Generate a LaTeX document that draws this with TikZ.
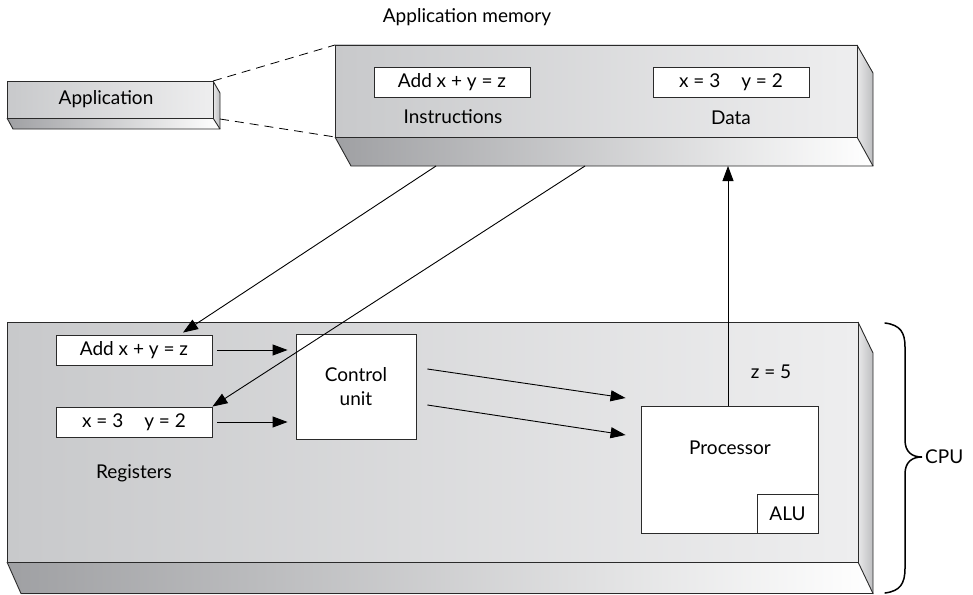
\documentclass[tikz,border=0pt]{standalone}
\usepackage{fontspec}
\setmainfont{Lato}
\usetikzlibrary{arrows.meta}
\definecolor{frontL}{HTML}{C8C9CB}
\definecolor{frontR}{HTML}{EEEEEF}
\definecolor{botL}{HTML}{9FA0A3}
\definecolor{sideL}{HTML}{E8E8E9}
\definecolor{sideR}{HTML}{BDBEC0}
\definecolor{edge}{HTML}{2A2A2A}
\newcommand{\lblfont}{\fontsize{19}{22}\selectfont}
\tikzset{
  front/.style={left color=frontL, right color=frontR},
  bottomface/.style={left color=botL, right color=white},
  sideface/.style={left color=sideL, right color=sideR},
  outline/.style={draw=edge, line width=0.9pt, line join=round},
  whitebox/.style={draw=edge, fill=white, line width=0.9pt, inner sep=0pt, font=\lblfont},
  lbl/.style={inner sep=0pt, font=\lblfont},
  arr/.style={draw=black, line width=0.9pt, -{Triangle[length=15pt,width=11pt]}},
  dashline/.style={draw=black, line width=0.8pt, dash pattern=on 9pt off 6pt}
}
\begin{document}
\begin{tikzpicture}[x=1pt,y=-1pt]
\useasboundingbox (0,0) rectangle (973,594);
% ---------- Application ----------
\shade[front] (7,81) rectangle (213,118);
\shade[bottomface] (7,118) -- (213,118) -- (220,129) -- (13,129) -- cycle;
\shade[sideface] (213,81) -- (220,93) -- (220,129) -- (213,118) -- cycle;
\draw[outline] (7,81) rectangle (213,118);
\draw[outline] (7,118) -- (13,129) -- (220,129) -- (213,118);
\draw[outline] (213,81) -- (220,93) -- (220,129);
\node[lbl] (app) at (106,99) {Application};
% ---------- Application memory ----------
\shade[front] (335,45) rectangle (857,137);
\shade[bottomface] (335,137) -- (857,137) -- (873,166) -- (351,166) -- cycle;
\shade[sideface] (857,45) -- (873,73) -- (873,166) -- (857,137) -- cycle;
\draw[outline] (335,45) rectangle (857,137);
\draw[outline] (335,137) -- (351,166) -- (873,166) -- (857,137);
\draw[outline] (857,45) -- (873,73) -- (873,166);
\node[lbl] (memtitle) at (467,17) {Application memory};
\node[whitebox, minimum width=156pt, minimum height=30pt] (instr) at (452,82) {Add x + y = z};
\node[lbl] (instrlbl) at (453,117) {Instructions};
\node[whitebox, minimum width=156pt, minimum height=30pt] (data) at (731,82) {x = 3\hspace{1.1em}y = 2};
\node[lbl] (datalbl) at (731,118) {Data};
% dashed zoom lines
\coordinate (appTR) at (213,81);
\coordinate (appBR) at (220,119);
\coordinate (memTL) at (335,45);
\coordinate (memBL) at (335,137);
\draw[dashline] (appTR) -- (memTL);
\draw[dashline] (appBR) -- (memBL);
% ---------- CPU ----------
\shade[front] (7,322) rectangle (858,562);
\shade[bottomface] (7,562) -- (858,562) -- (873,594) -- (21,594) -- cycle;
\shade[sideface] (858,322) -- (873,353) -- (873,594) -- (858,562) -- cycle;
\draw[outline] (7,322) rectangle (858,562);
\draw[outline] (7,562) -- (21,593.5) -- (873,593.5) -- (858,562);
\draw[outline] (858,322) -- (873,353) -- (873,594);
\node[whitebox, minimum width=156pt, minimum height=30pt] (reg1) at (134,350) {Add x + y = z};
\node[whitebox, minimum width=156pt, minimum height=30pt] (reg2) at (134,422) {x = 3\hspace{1.1em}y = 2};
\node[lbl] (reglbl) at (134,473) {Registers};
\node[whitebox, minimum width=120pt, minimum height=105pt, align=center, font=\fontsize{19}{24}\selectfont] (cu) at (356,386.5) {Control\\unit};
\node[whitebox, minimum width=177pt, minimum height=127pt] (proc) at (729.5,469.5) {};
\node[lbl] (proclbl) at (730,448) {Processor};
\node[whitebox, minimum width=61pt, minimum height=39pt, anchor=south east] (alu) at (proc.south east) {ALU};
\node[lbl] (z5) at (771,372) {z = 5};
% ---------- brace + CPU ----------
\draw[line width=1.5pt, line cap=round] (885,323) .. controls (900,325) and (905,332) .. (905,347) -- (905,440) .. controls (905,452) and (912,457) .. (922,457)
  .. controls (912,457) and (905,462) .. (905,474) -- (905,568) .. controls (905,584) and (900,591) .. (885,593);
\node[lbl, anchor=west] (cpu) at (925,457) {CPU};
% ---------- connectors ----------
\coordinate (m1) at (436,166);
\coordinate (m2) at (585,166);
\coordinate (mb) at (0,166);
\draw[arr] (m1) -- ([xshift=49pt,yshift=2pt]reg1.north);
\draw[arr] (m2) -- (reg2.north east);
\draw[arr, shorten <=5pt, shorten >=8pt] (reg1.east) -- (reg1.east -| cu.west);
\draw[arr, shorten <=5pt, shorten >=8pt] (reg2.east) -- (reg2.east -| cu.west);
\draw[arr] ([xshift=11pt,yshift=17.5pt]cu.east) -- ([xshift=-15pt,yshift=71.5pt]proc.west);
\draw[arr] ([xshift=11pt,yshift=-18.5pt]cu.east) -- ([xshift=-15pt,yshift=34.5pt]proc.west);
\draw[arr] ([xshift=-1.5pt]proc.north) -- ([xshift=-1.5pt]proc.north |- mb);
\end{tikzpicture}
\end{document}
